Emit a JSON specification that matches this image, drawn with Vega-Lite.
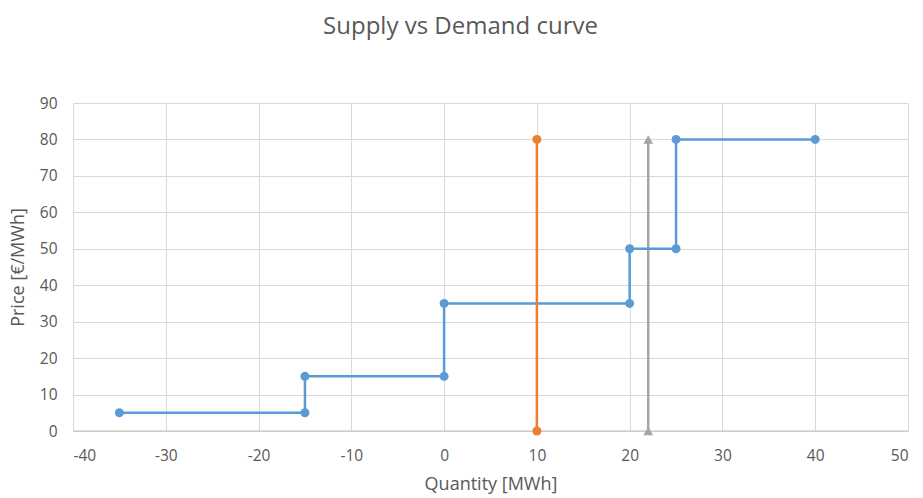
{
  "$schema": "https://vega.github.io/schema/vega-lite/v6.json",
  "width": 835,
  "height": 328,
  "autosize": {"type": "none"},
  "padding": {"left": 73, "top": 103, "right": 15, "bottom": 67},
  "background": "white",
  "title": {
    "text": "Supply vs Demand curve",
    "font": "Open Sans",
    "fontSize": 24,
    "fontWeight": "normal",
    "color": "#595959",
    "anchor": "middle",
    "dx": -30,
    "offset": 57
  },
  "config": {
    "view": {"stroke": null},
    "axis": {
      "labelFont": "Open Sans",
      "titleFont": "Open Sans",
      "labelColor": "#595959",
      "titleColor": "#595959",
      "labelFontSize": 15.5,
      "titleFontSize": 18,
      "titleFontWeight": "normal",
      "gridColor": "#d9d9d9",
      "gridWidth": 1,
      "ticks": false,
      "domain": false
    }
  },
  "datasets": {
    "curves": [
      {"series": "Supply", "idx": 1, "q": -35, "p": 5},
      {"series": "Supply", "idx": 2, "q": -15, "p": 5},
      {"series": "Supply", "idx": 3, "q": -15, "p": 15},
      {"series": "Supply", "idx": 4, "q": 0, "p": 15},
      {"series": "Supply", "idx": 5, "q": 0, "p": 35},
      {"series": "Supply", "idx": 6, "q": 20, "p": 35},
      {"series": "Supply", "idx": 7, "q": 20, "p": 50},
      {"series": "Supply", "idx": 8, "q": 25, "p": 50},
      {"series": "Supply", "idx": 9, "q": 25, "p": 80},
      {"series": "Supply", "idx": 10, "q": 40, "p": 80},
      {"series": "Demand", "idx": 1, "q": 10, "p": 0},
      {"series": "Demand", "idx": 2, "q": 10, "p": 80},
      {"series": "Clearing", "idx": 1, "q": 22, "p": 0},
      {"series": "Clearing", "idx": 2, "q": 22, "p": 80}
    ]
  },
  "data": {"name": "curves"},
  "encoding": {
    "x": {
      "field": "q",
      "type": "quantitative",
      "scale": {"domain": [-40, 50], "nice": false, "zero": false},
      "axis": {
        "title": "Quantity [MWh]",
        "values": [-40, -30, -20, -10, 0, 10, 20, 30, 40, 50],
        "labelExpr": "datum.value < 0 ? '-' + abs(datum.value) : '' + datum.value",
        "labelPadding": 17,
        "titlePadding": 12
      }
    },
    "y": {
      "field": "p",
      "type": "quantitative",
      "scale": {"domain": [0, 90], "nice": false},
      "axis": {
        "title": "Price [€/MWh]",
        "values": [0, 10, 20, 30, 40, 50, 60, 70, 80, 90],
        "labelPadding": 16,
        "titlePadding": 12
      }
    },
    "order": {"field": "idx", "type": "quantitative"}
  },
  "layer": [
    {
      "mark": {"type": "rule", "color": "#bfbfbf", "strokeWidth": 1},
      "data": {"values": [{"y0": 0}]},
      "encoding": {"y": {"field": "y0", "type": "quantitative"}, "x": null, "order": null}
    },
    {
      "transform": [{"filter": "datum.series === 'Clearing'"}],
      "mark": {"type": "line", "color": "#A5A5A5", "strokeWidth": 2.5},
      "encoding": {}
    },
    {
      "transform": [{"filter": "datum.series === 'Clearing'"}],
      "mark": {"type": "point", "shape": "triangle-up", "filled": true, "color": "#A5A5A5", "size": 95, "opacity": 1},
      "encoding": {}
    },
    {
      "transform": [{"filter": "datum.series === 'Supply'"}],
      "mark": {"type": "line", "color": "#5B9BD5", "strokeWidth": 2.5, "point": {"filled": true, "color": "#5B9BD5", "size": 80, "opacity": 1}},
      "encoding": {}
    },
    {
      "transform": [{"filter": "datum.series === 'Demand'"}],
      "mark": {"type": "line", "color": "#ED7D31", "strokeWidth": 2.5, "point": {"filled": true, "color": "#ED7D31", "size": 80, "opacity": 1}},
      "encoding": {}
    }
  ]
}
